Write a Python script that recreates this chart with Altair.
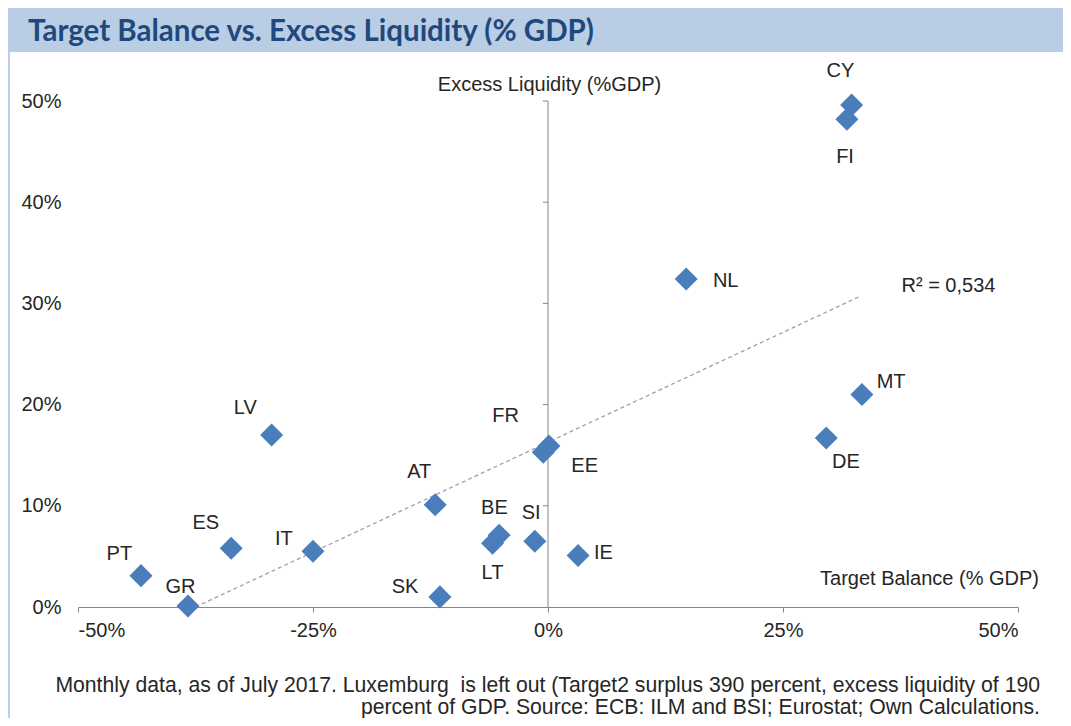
import altair as alt
import pandas as pd

# ---- data ----
countries = ["CY", "FI", "NL", "MT", "DE", "LV", "FR", "EE", "AT", "ES", "IT",
             "PT", "GR", "SK", "BE", "LT", "SI", "IE"]
target_balance = [32.3, 31.8, 14.7, 33.4, 29.6, -29.4, 0.1, -0.5, -12.0, -33.7, -25.0,
                  -43.3, -38.3, -11.5, -5.2, -5.9, -1.4, 3.2]
excess_liquidity = [49.6, 48.2, 32.4, 21.0, 16.7, 17.0, 15.9, 15.3, 10.1, 5.8, 5.5,
                    3.1, 0.1, 1.0, 7.1, 6.3, 6.5, 5.1]
# label anchor positions (data units)
label_x = [31.1, 31.6, 18.9, 36.5, 31.7, -32.2, -4.5, 3.9, -13.7, -36.4, -28.1,
           -45.6, -39.1, -15.2, -5.7, -5.9, -1.8, 5.9]
label_y = [53.0, 44.5, 32.2, 22.2, 14.3, 19.7, 18.9, 13.9, 13.3, 8.3, 6.7,
           5.2, 2.0, 2.0, 9.8, 3.4, 9.3, 5.3]

trend_x = [-37.5, 33.2]
trend_y = [0.0, 30.7]
r2_text = ["R² = 0,534"]
r2_x = [42.6]
r2_y = [31.7]

x_ticks = [-50, -25, 0, 25, 50]
y_ticks = [0, 10, 20, 30, 40, 50]

title_text = "Target Balance vs. Excess Liquidity (% GDP)"
foot_1 = "Monthly data, as of July 2017. Luxemburg\u00a0 is left out (Target2 surplus 390 percent, excess liquidity of 190"
foot_2 = "percent of GDP. Source: ECB: ILM and BSI; Eurostat; Own Calculations."

df = pd.DataFrame({"country": countries, "x": target_balance, "y": excess_liquidity,
                   "lx": label_x, "ly": label_y})
trend = pd.DataFrame({"x": trend_x, "y": trend_y})
r2 = pd.DataFrame({"t": r2_text, "x": r2_x, "y": r2_y})
yt = pd.DataFrame({"y": y_ticks[1:]})
one = pd.DataFrame({"a": [0]})

FONT = "Liberation Sans"
TXT = "#262626"
AX = "#868686"
BLUE = "#4A7EBB"

xs = alt.Scale(domain=[-50, 50], nice=False, zero=False)
ys = alt.Scale(domain=[0, 50], nice=False, zero=False)

x_axis = alt.Axis(
    values=x_ticks, labelExpr="datum.value + '%'", grid=False,
    domainColor=AX, tickColor=AX, tickSize=5, labelFontSize=20, labelFont=FONT,
    labelColor=TXT, labelPadding=8,
    title="Target Balance (% GDP)", titleX=851, titleY=-29, titleAlign="center",
    titleBaseline="middle", titleFont=FONT, titleFontSize=20,
    titleFontWeight="normal", titleColor=TXT)
y_axis = alt.Axis(
    values=y_ticks, labelExpr="datum.value + '%'", grid=False, domain=False,
    ticks=False, labelFontSize=20, labelFont=FONT, labelColor=TXT, labelPadding=17,
    title="Excess Liquidity (%GDP)", titleAngle=0, titleX=471, titleY=-17,
    titleAlign="center", titleBaseline="middle", titleFont=FONT, titleFontSize=20,
    titleFontWeight="normal", titleColor=TXT)

points = alt.Chart(df).mark_point(shape="diamond", filled=True, size=530,
                                  color=BLUE, opacity=1).encode(
    x=alt.X("x:Q", scale=xs, axis=x_axis),
    y=alt.Y("y:Q", scale=ys, axis=y_axis),
)

labels = alt.Chart(df).mark_text(font=FONT, fontSize=20, color=TXT, align="center",
                                 baseline="middle").encode(
    x=alt.X("lx:Q", scale=xs, axis=x_axis),
    y=alt.Y("ly:Q", scale=ys, axis=y_axis),
    text="country:N",
)

trend_line = alt.Chart(trend).mark_line(color="#A0A0A0", strokeDash=[4, 3],
                                        strokeWidth=1.3).encode(
    x=alt.X("x:Q", scale=xs, axis=x_axis),
    y=alt.Y("y:Q", scale=ys, axis=y_axis),
)

r2_label = alt.Chart(r2).mark_text(font=FONT, fontSize=20, color=TXT, align="center",
                                   baseline="middle").encode(
    x=alt.X("x:Q", scale=xs, axis=x_axis),
    y=alt.Y("y:Q", scale=ys, axis=y_axis),
    text="t:N",
)

y_line = alt.Chart(one).mark_rule(color=AX, strokeWidth=1).encode(
    x=alt.X(datum=0, type="quantitative", scale=xs, axis=x_axis),
    y=alt.Y(datum=0, type="quantitative", scale=ys, axis=y_axis),
    y2=alt.Y2(datum=50),
)

y_tick_marks = alt.Chart(yt).mark_rule(color=AX, strokeWidth=1).encode(
    x=alt.X(datum=-0.55, type="quantitative", scale=xs, axis=x_axis),
    x2=alt.X2(datum=0),
    y=alt.Y("y:Q", scale=ys, axis=y_axis),
)

title_bar = alt.Chart(one).mark_rect(color="#B9CDE5").encode(
    x=alt.value(-70), x2=alt.value(985), y=alt.value(-93), y2=alt.value(-49))

left_border = alt.Chart(one).mark_rule(color="#B9CDE5", strokeWidth=2).encode(
    x=alt.value(-69), y=alt.value(-49), y2=alt.value(617))

title = alt.Chart(one).mark_text(align="left", baseline="middle", font="Lato",
                                 fontWeight="bold", fontSize=29.5, color="#1F497D",
                                 text=title_text).encode(
    x=alt.value(-50), y=alt.value(-69))

foot_a = alt.Chart(one).mark_text(align="right", baseline="middle", font=FONT,
                                  fontSize=21.2, color=TXT, text=foot_1).encode(
    x=alt.value(962), y=alt.value(585))
foot_b = alt.Chart(one).mark_text(align="right", baseline="middle", font=FONT,
                                  fontSize=21.2, color=TXT, text=foot_2).encode(
    x=alt.value(962), y=alt.value(607))

chart = alt.layer(
    title_bar, left_border, title, y_line, y_tick_marks, trend_line, points,
    labels, r2_label, foot_a, foot_b
).properties(
    width=940, height=506,
    autosize=alt.AutoSizeParams(type="none"),
    padding={"left": 70, "top": 93, "right": 45, "bottom": 111},
    background="white",
).configure_view(stroke=None)

chart.save("out.html", embed_options={"renderer": "svg", "actions": False})
